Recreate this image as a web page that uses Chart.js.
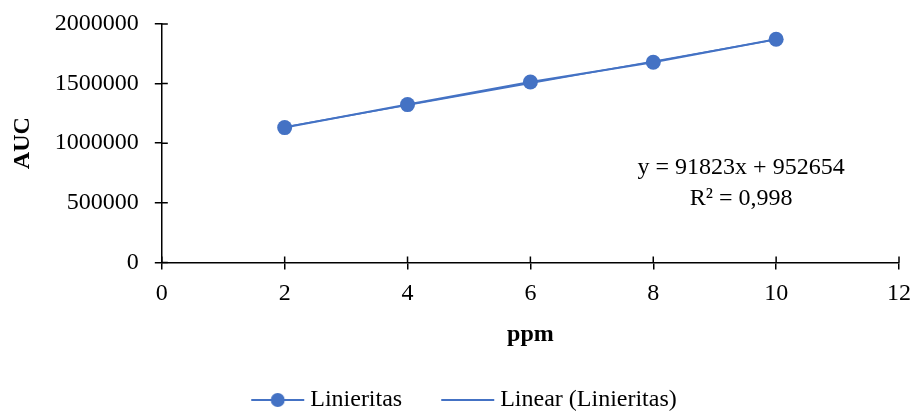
<!DOCTYPE html>
<html>
<head>
<meta charset="utf-8">
<script src="https://cdn.jsdelivr.net/npm/chart.js@4.4.1/dist/chart.umd.min.js"></script>
<style>
  html, body { margin: 0; padding: 0; background: #fff; }
  #wrap { width: 913px; height: 413px; }
</style>
</head>
<body>
<div id="wrap"><canvas id="auc"></canvas></div>
<script>
// concentrations (ppm) and measured peak area
const ppm = [2, 4, 6, 8, 10];
const auc = [1131000, 1324000, 1514000, 1679000, 1872000];
// trendline ends, from the fitted equation shown on the chart
const trendX = [2, 10];
const trendY = [1136300, 1870884];
const xTicks = [0, 2, 4, 6, 8, 10, 12];
const yTicks = [0, 500000, 1000000, 1500000, 2000000];
const eqLines = ['y = 91823x + 952654', 'R² = 0,998'];

const blue = '#4472C4';
const font = 'Liberation Serif';
const fs = 24;

// legend symbols: line with a dot, plain line (drawn a bit wider than the box
// so the gap to the text is as small as in the original)
function legendIcon(withDot) {
  const c = document.createElement('canvas');
  c.width = 68; c.height = 16;
  const g = c.getContext('2d');
  g.strokeStyle = blue;
  g.lineWidth = 2;
  g.beginPath(); g.moveTo(14, 8); g.lineTo(67, 8); g.stroke();
  if (withDot) {
    g.fillStyle = blue;
    g.beginPath(); g.arc(40.5, 8, 7, 0, Math.PI * 2); g.fill();
  }
  return c;
}
const icons = [legendIcon(true), legendIcon(false)];

// ticks that cross the axis line + the trendline equation
const extras = {
  id: 'extras',
  afterDraw(chart) {
    const { ctx, scales: { x, y } } = chart;
    ctx.save();
    ctx.strokeStyle = '#000';
    ctx.lineWidth = 1.5;
    ctx.beginPath();
    xTicks.forEach(v => {
      const px = x.getPixelForValue(v);
      ctx.moveTo(px, y.bottom); ctx.lineTo(px, y.bottom - 6);
    });
    yTicks.forEach(v => {
      const py = y.getPixelForValue(v);
      ctx.moveTo(x.left, py); ctx.lineTo(x.left + 6, py);
    });
    ctx.stroke();

    ctx.fillStyle = '#000';
    ctx.font = fs + 'px "' + font + '"';
    ctx.textAlign = 'center';
    ctx.textBaseline = 'middle';
    const cx = x.getPixelForValue(9.43);
    ctx.fillText(eqLines[0], cx, y.getPixelForValue(798000));
    ctx.fillText(eqLines[1], cx, y.getPixelForValue(535000));
    ctx.restore();
  }
};

new Chart(document.getElementById('auc'), {
  type: 'scatter',
  data: {
    datasets: [
      {
        label: 'Linieritas',
        data: ppm.map((v, i) => ({ x: v, y: auc[i] })),
        showLine: true,
        borderColor: blue,
        backgroundColor: blue,
        borderWidth: 2,
        pointRadius: 7.5,
        pointHoverRadius: 7.5,
        pointBorderWidth: 0
      },
      {
        label: 'Linear (Linieritas)',
        data: trendX.map((v, i) => ({ x: v, y: trendY[i] })),
        showLine: true,
        borderColor: blue,
        borderWidth: 1.5,
        pointRadius: 0
      }
    ]
  },
  options: {
    responsive: true,
    maintainAspectRatio: false,
    animation: false,
    layout: { padding: { top: 0, right: 0, left: 8, bottom: -9 } },
    plugins: {
      tooltip: { enabled: false },
      legend: {
        position: 'bottom',
        labels: {
          color: '#000',
          font: { family: font, size: fs },
          usePointStyle: true,
          pointStyleWidth: 54,
          padding: 32,
          generateLabels: (chart) => chart.data.datasets.map((ds, i) => ({
            text: ds.label,
            pointStyle: icons[i],
            datasetIndex: i,
            fontColor: '#000',
            lineWidth: 0,
            strokeStyle: 'transparent',
            fillStyle: 'transparent'
          }))
        }
      }
    },
    scales: {
      x: {
        type: 'linear',
        min: 0, max: 12,
        afterBuildTicks: (s) => { s.ticks = xTicks.map(v => ({ value: v })); },
        afterFit: (s) => { s.paddingRight = 14; },
        grid: { display: true, drawOnChartArea: false, color: '#000', lineWidth: 1.5, tickLength: 7 },
        border: { color: '#000', width: 1.5 },
        ticks: { color: '#000', font: { family: font, size: fs }, padding: 10, maxRotation: 0 },
        title: { display: true, text: 'ppm', color: '#000', font: { family: font, size: fs, weight: 'bold' }, padding: { top: 2, bottom: 7 } }
      },
      y: {
        min: 0, max: 2000000,
        afterBuildTicks: (s) => { s.ticks = yTicks.map(v => ({ value: v })); },
        afterFit: (s) => { s.paddingTop = 24; },
        grid: { display: true, drawOnChartArea: false, color: '#000', lineWidth: 1.5, tickLength: 7 },
        border: { color: '#000', width: 1.5 },
        ticks: { color: '#000', font: { family: font, size: fs }, padding: 16, callback: (v) => String(v) },
        title: { display: true, text: 'AUC', color: '#000', font: { family: font, size: fs, weight: 'bold' }, padding: { top: 0, bottom: 2 } }
      }
    }
  },
  plugins: [extras]
});
</script>
</body>
</html>
